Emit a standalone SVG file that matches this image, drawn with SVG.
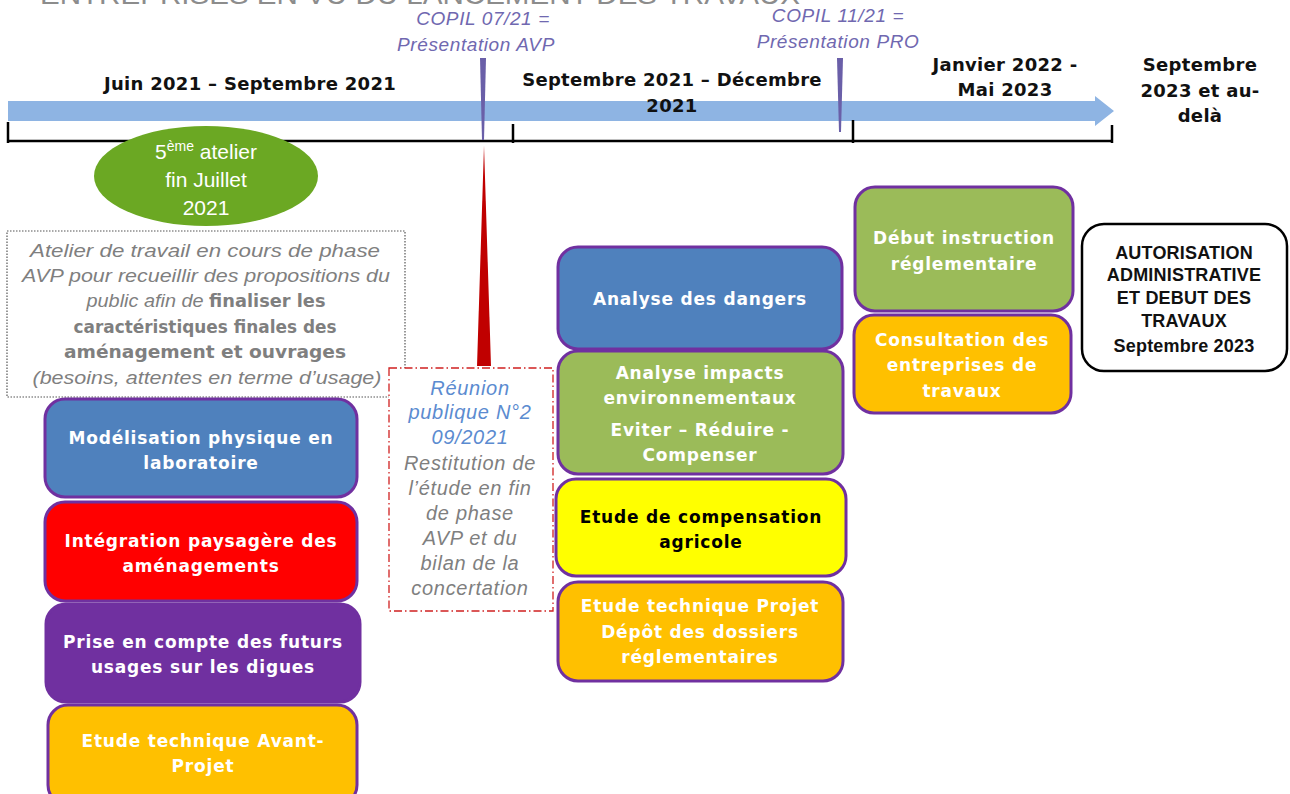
<svg xmlns="http://www.w3.org/2000/svg" width="1290" height="794" viewBox="0 0 1290 794">
<style>
  .box{stroke:#7030A0;stroke-width:3}
  .bt{font-family:"DejaVu Sans",sans-serif;font-weight:bold;font-size:17px;letter-spacing:0.8px;fill:#fff;text-anchor:middle}
  .bk{fill:#000}
  .tl{font-family:"DejaVu Sans",sans-serif;font-weight:bold;font-size:18px;letter-spacing:0.3px;fill:#111;text-anchor:middle}
  .copil{font-family:"Liberation Sans",sans-serif;font-style:italic;font-size:19px;letter-spacing:0.6px;fill:#7068B0;text-anchor:middle}
  .gr{font-family:"Liberation Sans",sans-serif;font-style:italic;font-size:19px;fill:#7f7f7f;text-anchor:middle}
  .rg{font-family:"Liberation Sans",sans-serif;font-style:italic;font-size:20px;letter-spacing:0.7px;fill:#7f7f7f;text-anchor:middle}
  .grb{font-family:"DejaVu Sans",sans-serif;font-style:normal;font-weight:bold;font-size:17px;fill:#7f7f7f}
  .bl{font-family:"Liberation Sans",sans-serif;font-style:italic;font-size:20px;letter-spacing:0.7px;fill:#5B8BD0;text-anchor:middle}
  .ell{font-family:"Liberation Sans",sans-serif;font-size:21px;fill:#fff;text-anchor:middle}
  .blk{font-family:"Liberation Sans",sans-serif;font-weight:bold;font-size:18px;letter-spacing:0.2px;fill:#111;text-anchor:middle}
</style>
<rect width="1290" height="794" fill="#fff"/>
<g id="title">
  <text x="40" y="4" font-family="Liberation Sans,sans-serif" font-size="28" fill="#8c8c8c" textLength="760" lengthAdjust="spacingAndGlyphs">ENTREPRISES EN VU DU LANCEMENT DES TRAVAUX</text>
</g>
<g id="timeline">
  <polygon points="8,101 1095,101 1095,96 1114,111 1095,126 1095,121 8,121" fill="#8EB4E3"/>
  <line x1="8" y1="141" x2="1112" y2="141" stroke="#000" stroke-width="2.5"/>
  <line x1="8" y1="122" x2="8" y2="143" stroke="#000" stroke-width="2.5"/>
  <line x1="513" y1="124" x2="513" y2="143" stroke="#000" stroke-width="2.5"/>
  <line x1="853" y1="120" x2="853" y2="143" stroke="#000" stroke-width="2.5"/>
  <line x1="1112" y1="125" x2="1112" y2="143" stroke="#000" stroke-width="2.5"/>
  <text class="tl" x="250" y="90">Juin 2021 – Septembre 2021</text>
  <text class="tl" x="672" y="86">Septembre 2021 – Décembre</text>
  <text class="tl" x="672" y="112">2021</text>
  <text class="tl" x="1005" y="71">Janvier 2022 -</text>
  <text class="tl" x="1005" y="96">Mai 2023</text>
  <text class="tl" x="1200" y="71">Septembre</text>
  <text class="tl" x="1200" y="97">2023 et au-</text>
  <text class="tl" x="1200" y="122">delà</text>
</g>
<g id="copil1">
  <text class="copil" x="483" y="25">COPIL 07/21 =</text>
  <text class="copil" x="476" y="51">Présentation AVP</text>
  <polygon points="480,58 486,58 484,140 482,140" fill="#6A5FA8"/>
</g>
<g id="copil2">
  <text class="copil" x="838" y="22">COPIL 11/21 =</text>
  <text class="copil" x="838" y="48">Présentation PRO</text>
  <polygon points="837,58 843,58 841,132 839,132" fill="#6A5FA8"/>
</g>
<g id="atelier">
  <ellipse cx="206" cy="176" rx="112" ry="50" fill="#6BA823"/>
  <text class="ell" x="206" y="159">5<tspan font-size="14" dy="-8">ème</tspan><tspan dy="8"> atelier</tspan></text>
  <text class="ell" x="206" y="187">fin Juillet</text>
  <text class="ell" x="206" y="215">2021</text>
</g>
<g id="atelier-note">
  <rect x="7" y="231" width="398" height="166" fill="#fff" stroke="#555" stroke-width="1.2" stroke-dasharray="1.5,1.5"/>
  <text class="gr" x="205" y="257" textLength="350" lengthAdjust="spacingAndGlyphs">Atelier de travail en cours  de phase</text>
  <text class="gr" x="206" y="282" textLength="368" lengthAdjust="spacingAndGlyphs">AVP pour recueillir des propositions du</text>
  <text class="gr" x="206" y="307" textLength="239" lengthAdjust="spacingAndGlyphs">public afin de <tspan class="grb">finaliser les</tspan></text>
  <text class="gr" x="205" y="333" textLength="263" lengthAdjust="spacingAndGlyphs"><tspan class="grb">caractéristiques finales des</tspan></text>
  <text class="gr" x="205" y="358" textLength="282" lengthAdjust="spacingAndGlyphs"><tspan class="grb">aménagement et   ouvrages</tspan></text>
  <text class="gr" x="207" y="384" textLength="349" lengthAdjust="spacingAndGlyphs">(besoins, attentes en terme d’usage)</text>
</g>
<g id="reunion">
  <polygon points="484,146 477,366 491,366" fill="#C00000"/>
  <rect x="389" y="368" width="164" height="243" fill="#fff" stroke="#D02020" stroke-width="1.3" stroke-dasharray="8,3,1.5,3"/>
  <text class="bl" x="470" y="395">Réunion</text>
  <text class="bl" x="470" y="419">publique N°2</text>
  <text class="bl" x="470" y="444">09/2021</text>
  <text class="rg" x="470" y="470">Restitution de</text>
  <text class="rg" x="470" y="495">l’étude en fin</text>
  <text class="rg" x="470" y="520">de phase</text>
  <text class="rg" x="470" y="545">AVP et du</text>
  <text class="rg" x="470" y="570">bilan de la</text>
  <text class="rg" x="470" y="595">concertation</text>
</g>
<g id="modelisation">
  <rect class="box" x="45" y="399" width="312" height="98" rx="20" fill="#4F81BD"/>
  <text class="bt" x="201" y="444">Modélisation physique en</text>
  <text class="bt" x="201" y="469">laboratoire</text>
</g>
<g id="integration">
  <rect class="box" x="45" y="502" width="312" height="99" rx="20" fill="#FF0000"/>
  <text class="bt" x="201" y="547">Intégration paysagère des</text>
  <text class="bt" x="201" y="572">aménagements</text>
</g>
<g id="usages">
  <rect class="box" x="46" y="604" width="314" height="98" rx="20" fill="#7030A0"/>
  <text class="bt" x="203" y="648">Prise en compte des futurs</text>
  <text class="bt" x="203" y="673">usages sur les digues</text>
</g>
<g id="avant-projet">
  <rect class="box" x="48" y="705" width="309" height="100" rx="20" fill="#FFC000"/>
  <text class="bt" x="203" y="747">Etude technique Avant-</text>
  <text class="bt" x="203" y="772">Projet</text>
</g>
<g id="dangers">
  <rect class="box" x="558" y="247" width="284" height="102" rx="20" fill="#4F81BD"/>
  <text class="bt" x="700" y="305">Analyse des dangers</text>
</g>
<g id="impacts">
  <rect class="box" x="558" y="351" width="285" height="123" rx="20" fill="#9BBB59"/>
  <text class="bt" x="700" y="379">Analyse impacts</text>
  <text class="bt" x="700" y="404">environnementaux</text>
  <text class="bt" x="700" y="436">Eviter – Réduire -</text>
  <text class="bt" x="700" y="461">Compenser</text>
</g>
<g id="compensation">
  <rect class="box" x="556" y="479" width="290" height="97" rx="20" fill="#FFFF00"/>
  <text class="bt bk" x="701" y="523">Etude de compensation</text>
  <text class="bt bk" x="701" y="548">agricole</text>
</g>
<g id="projet">
  <rect class="box" x="558" y="582" width="285" height="99" rx="20" fill="#FFC000"/>
  <text class="bt" x="700" y="612">Etude technique Projet</text>
  <text class="bt" x="700" y="638">Dépôt des dossiers</text>
  <text class="bt" x="700" y="663">réglementaires</text>
</g>
<g id="instruction">
  <rect class="box" x="855" y="187" width="218" height="124" rx="20" fill="#9BBB59"/>
  <text class="bt" x="964" y="244">Début instruction</text>
  <text class="bt" x="964" y="270">réglementaire</text>
</g>
<g id="consultation">
  <rect class="box" x="854" y="315" width="217" height="98" rx="20" fill="#FFC000"/>
  <text class="bt" x="962" y="346">Consultation des</text>
  <text class="bt" x="962" y="371">entreprises de</text>
  <text class="bt" x="962" y="397">travaux</text>
</g>
<g id="autorisation">
  <rect x="1082" y="224" width="205" height="147" rx="22" fill="#fff" stroke="#000" stroke-width="2.5"/>
  <text class="blk" x="1184" y="259">AUTORISATION</text>
  <text class="blk" x="1184" y="281">ADMINISTRATIVE</text>
  <text class="blk" x="1184" y="304">ET DEBUT DES</text>
  <text class="blk" x="1184" y="327">TRAVAUX</text>
  <text class="blk" x="1184" y="352" letter-spacing="1">Septembre 2023</text>
</g>
</svg>
